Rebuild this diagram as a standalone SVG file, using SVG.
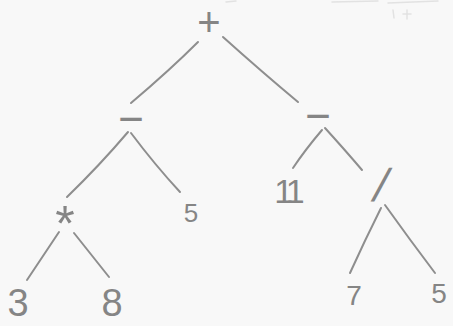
<svg xmlns="http://www.w3.org/2000/svg" width="453" height="326" viewBox="0 0 453 326">
<style>
.t{font-family:"Liberation Sans","DejaVu Sans",sans-serif;fill:#858585;text-anchor:middle}
.e{fill:none;stroke:#8e8e8e;stroke-width:2;stroke-linecap:round;stroke-linejoin:round}
.f{fill:none;stroke:#e2e2e2;stroke-width:1.5;stroke-linecap:round}
</style>
<rect width="453" height="326" fill="#f8f8f8"/>
<g id="smudge">
<path class="f" d="M226 2 L236 1 M332 2 L378 1 M388 3 L438 1"/>
<path class="f" d="M393 10 L394 18 M403 14 L411 14 M407 10 L407 19"/>
</g>
<g id="connectors">
<path class="e" d="M198 42 Q170 70 131 103"/>
<path class="e" d="M223 37 Q262 72 298 102"/>
<path class="e" d="M128 132 Q100 165 67 197"/>
<path class="e" d="M131 133 Q155 165 180 192"/>
<path class="e" d="M59 232 L27 280"/>
<path class="e" d="M74 233 L109 277"/>
<path class="e" d="M322 130 Q305 150 293 168"/>
<path class="e" d="M325 128 Q345 150 362 170"/>
<path class="e" d="M381 208 Q365 240 350 273"/>
<path class="e" d="M385 205 Q410 240 435 273"/>
</g>
<g id="n-plus"><text class="t" x="209" y="36" font-size="40">+</text></g>
<g id="n-minus-l"><text class="t" x="131" y="134" font-size="44">−</text></g>
<g id="n-minus-r"><text class="t" x="318" y="131" font-size="44">−</text></g>
<g id="n-times"><text class="t" x="65" y="241" font-size="50">*</text></g>
<g id="n-div"><text class="t" x="377" y="201" font-size="46" transform="skewX(-15) translate(54 0)">/</text></g>
<g id="n-3"><text class="t" x="18" y="316" font-size="38">3</text></g>
<g id="n-8"><text class="t" x="112" y="316" font-size="38">8</text></g>
<g id="n-5a"><text class="t" x="191" y="222" font-size="26">5</text></g>
<g id="n-11"><text class="t" x="287" y="203" font-size="34" letter-spacing="-5">11</text></g>
<g id="n-7"><text class="t" x="354" y="305" font-size="28">7</text></g>
<g id="n-5b"><text class="t" x="439" y="303" font-size="28">5</text></g>
</svg>
